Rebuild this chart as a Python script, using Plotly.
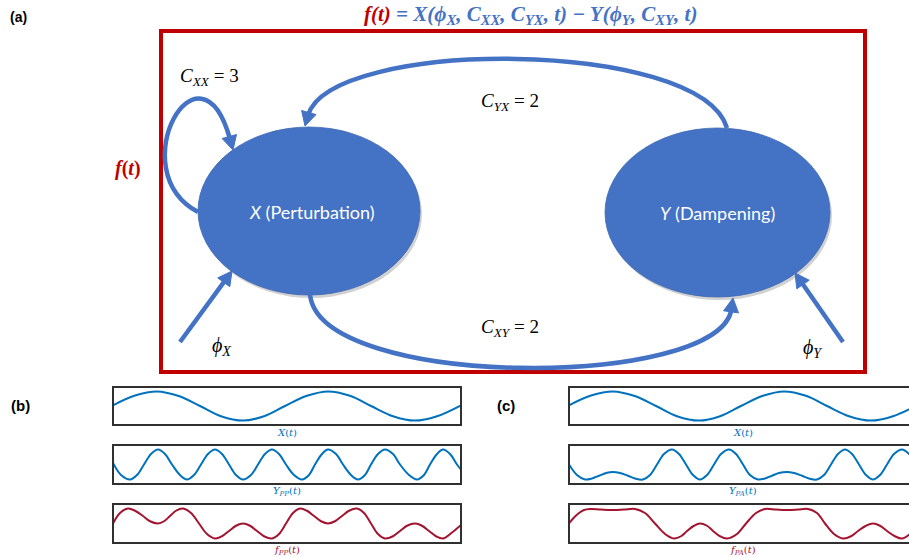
import math
import plotly.graph_objects as go

W, H = 909, 557

# ---------------- data ----------------
# time axis in arbitrary units across one panel (0 .. 348)
t_x = [0, 22, 44, 65, 87, 108, 130, 151, 172, 194, 215, 237, 258, 280, 302, 324, 348]
x_vals = [0.05, 0.72, 1.0, 0.7, 0.0, -0.7, -1.0, -0.7, 0.0, 0.7, 1.0, 0.7, 0.0, -0.7, -1.0, -0.7, 0.05]

t_ypp = [0, 8, 17, 24, 31, 38, 45, 52, 59, 67, 74, 81, 88, 95, 102, 109, 116, 123, 130, 138,
         145, 152, 159, 166, 173, 181, 189, 196, 202, 209, 215, 223, 230, 238, 245, 252, 258, 265,
         272, 280, 287, 296, 304, 311, 317, 324, 330, 337, 344, 348]
ypp_vals = [0.1, -0.7, -1, -0.7, 0, 0.7, 1, 0.7, 0, -0.7, -1, -0.7, 0, 0.7, 1, 0.7, 0, -0.7, -1, -0.7,
            0, 0.7, 1, 0.7, 0, -0.7, -1, -0.7, 0, 0.7, 1, 0.7, 0, -0.7, -1, -0.7, 0, 0.7,
            1, 0.7, 0, -0.7, -1, -0.7, 0, 0.7, 1, 0.7, 0, -0.35]

t_fpp = [0, 7, 15, 22, 30, 37, 45, 51, 57, 63, 70, 78, 86, 94, 102, 109, 116, 123, 130, 137,
         144, 151, 159, 166, 173, 180, 187, 194, 201, 208, 215, 222, 229, 236, 244, 251, 258, 265,
         272, 280, 287, 294, 302, 309, 316, 323, 330, 339, 348]
fpp_vals = [0, 0.7, 1, 0.85, 0.5, 0.15, 0, 0.15, 0.5, 0.85, 1, 0.7, 0, -0.7, -1, -0.85, -0.5, -0.15, 0, -0.15,
            -0.5, -0.85, -1, -0.7, 0, 0.7, 1, 0.85, 0.5, 0.15, 0, 0.15, 0.5, 0.85, 1, 0.7, 0, -0.7,
            -1, -0.85, -0.5, -0.15, 0, -0.15, -0.5, -0.85, -1, -0.6, -0.1]

t_ypa = [0, 8, 16, 23, 30, 37, 44, 51, 59, 66, 74, 81, 88, 95, 103, 110, 117, 124, 131, 138,
         145, 152, 160, 167, 174, 181, 189, 196, 203, 210, 218, 225, 233, 240, 248, 255, 262, 269,
         276, 283, 290, 297, 304, 311, 318, 325, 333, 340, 348]
ypa_vals = [0, -0.7, -1, -0.93, -0.75, -0.57, -0.5, -0.57, -0.75, -0.93, -1, -0.7, 0, 0.7, 1, 0.7, 0, -0.7, -1, -0.7,
            0, 0.7, 1, 0.7, 0, -0.7, -1, -0.93, -0.75, -0.57, -0.5, -0.57, -0.75, -0.93, -1, -0.7, 0, 0.7,
            1, 0.7, 0, -0.7, -1, -0.7, 0, 0.7, 1, 0.7, 0]

t_fpa = [0, 5, 10, 15, 21, 32, 44, 55, 66, 76, 86, 96, 105, 112, 118, 125, 131, 138, 144, 151,
         158, 168, 177, 187, 196, 207, 218, 229, 239, 248, 256, 265, 274, 282, 289, 297, 304, 311,
         318, 326, 333, 341, 348]
fpa_vals = [0, 0.4, 0.7, 0.9, 0.97, 0.93, 0.9, 0.93, 0.97, 0.7, 0, -0.7, -1, -0.85, -0.5, -0.15, 0, -0.15, -0.5, -0.85,
            -1, -0.7, 0, 0.7, 0.97, 0.93, 0.9, 0.93, 0.97, 0.7, 0, -0.7, -1, -0.85, -0.5, -0.15, 0, -0.15,
            -0.5, -0.85, -1, -0.7, -0.2]

panel_b_labels = ["<i>X</i>(<i>t</i>)", "<i>Y<sub>PP</sub></i>(<i>t</i>)", "<i>f<sub>PP</sub></i>(<i>t</i>)"]
panel_c_labels = ["<i>X</i>(<i>t</i>)", "<i>Y<sub>PA</sub></i>(<i>t</i>)", "<i>f<sub>PA</sub></i>(<i>t</i>)"]

# ---------------- styles ----------------
BLUE_LINE = "#0072BD"
RED_LINE = "#A2142F"
NODE = "#4472C4"
FRAME_RED = "#C00000"

fig = go.Figure()

# invisible trace for the diagram canvas axis
fig.add_trace(go.Scatter(x=[None], y=[None], xaxis="x", yaxis="y", showlegend=False, hoverinfo="skip"))

def py2paper(py):
    return 1 - py / H

# wave panel geometry (pixels)
rows_y = [(387, 425), (445, 484), (504, 543)]
b_x = (113, 461)
c_x = (569, 917)
span = 348

layout_axes = {}
series_b = [(t_x, x_vals, BLUE_LINE), (t_ypp, ypp_vals, BLUE_LINE), (t_fpp, fpp_vals, RED_LINE)]
series_c = [(t_x, x_vals, BLUE_LINE), (t_ypa, ypa_vals, BLUE_LINE), (t_fpa, fpa_vals, RED_LINE)]

shapes = []
annotations = []
idx = 2
for col, (xr, series, labels) in enumerate([(b_x, series_b, panel_b_labels), (c_x, series_c, panel_c_labels)]):
    x0p = xr[0] / W
    x1p = min(xr[1], W) / W
    visible_span = (min(xr[1], W) - xr[0])
    for r, ((y0, y1), (tt, vv, colr), lab) in enumerate(zip(rows_y, series, labels)):
        xa = f"xaxis{idx}"
        ya = f"yaxis{idx}"
        layout_axes[xa] = dict(domain=[x0p, x1p], range=[0, span * visible_span / (xr[1] - xr[0])],
                               anchor=f"y{idx}", visible=False, fixedrange=True)
        layout_axes[ya] = dict(domain=[py2paper(y1), py2paper(y0)], range=[-1.3, 1.3],
                               anchor=f"x{idx}", visible=False, fixedrange=True)
        fig.add_trace(go.Scatter(x=tt, y=vv, xaxis=f"x{idx}", yaxis=f"y{idx}", mode="lines",
                                 line=dict(color=colr, width=2, shape="spline", smoothing=1.0),
                                 showlegend=False, hoverinfo="skip"))
        shapes.append(dict(type="rect", xref="paper", yref="paper",
                           x0=xr[0] / W, x1=xr[1] / W, y0=py2paper(y1), y1=py2paper(y0),
                           line=dict(color="#303030", width=2), layer="above"))
        annotations.append(dict(x=(xr[0] + xr[1]) / 2, y=y1 + 7, xref="x", yref="y", showarrow=False,
                                text=lab, xanchor="center", yanchor="middle",
                                font=dict(family="DejaVu Serif", size=10, color=colr)))
        idx += 1

# ---------------- diagram (panel a) ----------------
shapes.append(dict(type="rect", xref="x", yref="y", x0=161, x1=865, y0=31, y1=372,
                   line=dict(color=FRAME_RED, width=4), layer="below"))

for (ex0, ex1, ey0, ey1) in [(198, 420, 127, 295), (605, 830, 128, 297)]:
    shapes.append(dict(type="circle", xref="x", yref="y", x0=ex0 + 2, x1=ex1 + 2, y0=ey0 + 3, y1=ey1 + 3,
                       fillcolor="rgba(0,0,0,0.18)", line=dict(width=0), layer="below"))
    shapes.append(dict(type="circle", xref="x", yref="y", x0=ex0, x1=ex1, y0=ey0, y1=ey1,
                       fillcolor=NODE, line=dict(color="#3f68b5", width=0.8), layer="below"))

AL, AW = 14, 7.5
LW = 4.5

def head(tip, d):
    dx, dy = d
    n = math.hypot(dx, dy)
    dx, dy = dx / n, dy / n
    bx, by = tip[0] - AL * dx, tip[1] - AL * dy
    nx, ny = -dy, dx
    return (f"M {tip[0]:.1f} {tip[1]:.1f} L {bx + AW * nx:.1f} {by + AW * ny:.1f} "
            f"L {bx - AW * nx:.1f} {by - AW * ny:.1f} Z"), (tip[0] - (AL - 3) * dx, tip[1] - (AL - 3) * dy)

def curve_arrow(p0, p1, p2, tip):
    hp, end = head(tip, (tip[0] - p2[0], tip[1] - p2[1]))
    shapes.append(dict(type="path", xref="x", yref="y",
                       path=f"M {p0[0]} {p0[1]} C {p1[0]} {p1[1]}, {p2[0]} {p2[1]}, {end[0]:.1f} {end[1]:.1f}",
                       line=dict(color=NODE, width=LW)))
    shapes.append(dict(type="path", xref="x", yref="y", path=hp, fillcolor=NODE,
                       line=dict(color=NODE, width=1)))

def straight_arrow(p0, tip):
    hp, end = head(tip, (tip[0] - p0[0], tip[1] - p0[1]))
    shapes.append(dict(type="path", xref="x", yref="y",
                       path=f"M {p0[0]} {p0[1]} L {end[0]:.1f} {end[1]:.1f}",
                       line=dict(color=NODE, width=LW)))
    shapes.append(dict(type="path", xref="x", yref="y", path=hp, fillcolor=NODE,
                       line=dict(color=NODE, width=1)))

# Y -> X (top arc)
curve_arrow((727, 128), (700, 38), (330, 38), (305, 126))
# X -> Y (bottom arc)
curve_arrow((310, 294), (318, 390), (720, 390), (733, 298))
# self loop
curve_arrow((198, 212), (120, 170), (200, 30), (233, 150))
# inputs
straight_arrow((180, 342), (232, 271))
straight_arrow((843, 342), (795, 273))

SERIF = "Liberation Serif"
def ann(x, y, text, size, color="black", family=SERIF, anchor="center"):
    annotations.append(dict(x=x, y=y, xref="x", yref="y", text=text, showarrow=False,
                            xanchor=anchor, yanchor="middle",
                            font=dict(family=family, size=size, color=color)))

title = ("<b><i><span style='color:#C00000'>f</span><span style='color:#C00000'>(t)</span>"
         " = X(ϕ<sub>X</sub>, C<sub>XX</sub>, C<sub>YX</sub>, t) − Y(ϕ<sub>Y</sub>, C<sub>XY</sub>, t)</i></b>")
ann(530, 15, title, 21, color=NODE)
ann(128, 168, "<b><i>f</i>(<i>t</i>)</b>", 20, color=FRAME_RED)
ann(209, 77, "<i>C<sub>XX</sub></i> = 3", 19)
ann(510, 102, "<i>C<sub>YX</sub></i> = 2", 19)
ann(510, 328, "<i>C<sub>XY</sub></i> = 2", 19)
ann(221, 346, "<i>ϕ<sub>X</sub></i>", 20)
ann(813, 348, "<i>ϕ<sub>Y</sub></i>", 20)
ann(312, 212, "<i>X</i> (Perturbation)", 18, color="white", family="Lato")
ann(717, 213, "<i>Y</i> (Dampening)", 18, color="white", family="Lato")

ann(18, 17, "<b>(a)</b>", 14, family="Liberation Sans")
ann(20, 405, "<b>(b)</b>", 15, family="Liberation Sans")
ann(506, 405, "<b>(c)</b>", 15, family="Liberation Sans")

fig.update_layout(
    width=W, height=H,
    margin=dict(l=0, r=0, t=0, b=0),
    paper_bgcolor="white", plot_bgcolor="rgba(0,0,0,0)",
    xaxis=dict(domain=[0, 1], range=[0, W], visible=False, fixedrange=True),
    yaxis=dict(domain=[0, 1], range=[H, 0], visible=False, fixedrange=True),
    shapes=shapes, annotations=annotations, showlegend=False,
    **layout_axes,
)

fig.write_html("out.html", config={"displayModeBar": False},
               post_script="document.body.style.margin='0';document.body.style.overflow='hidden';")
